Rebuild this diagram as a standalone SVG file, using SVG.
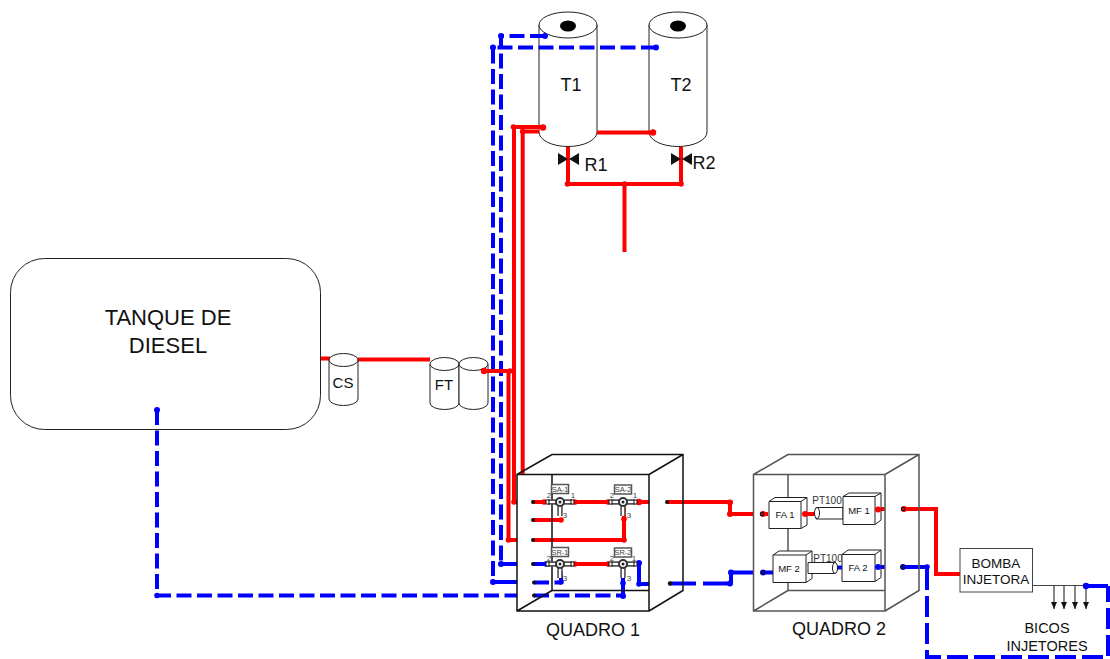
<svg xmlns="http://www.w3.org/2000/svg" width="1110" height="659" viewBox="0 0 1110 659">
<style>
text{font-family:"Liberation Sans",Arial,sans-serif;fill:#111;text-anchor:middle}
.s{fill:#fff;stroke:#222;stroke-width:1}
.b{fill:none;stroke:#111;stroke-width:1.5}
.g{fill:none;stroke:#555;stroke-width:1.5}
.r{fill:none;stroke:#f00;stroke-width:4}
.u{fill:none;stroke:#00f;stroke-width:4}
.d{stroke-dasharray:15 5.500}
.d2{stroke-dasharray:21 6}
.d3{stroke-dasharray:26 7}
.rd{fill:#f00}.ud{fill:#00f}
.t9{font-size:10px;fill:#333}
.t8{font-size:8px;fill:#444}
.t7{font-size:7.500px;fill:#444}
.n{font-size:9.500px}
.valve{fill:#111}
.v{fill:none;stroke:#555;stroke-width:5.500}
.vi{fill:none;stroke:#fff;stroke-width:2.200}
</style>
<defs>
<marker id="arr" markerWidth="7" markerHeight="6" refX="7" refY="3" orient="auto" markerUnits="userSpaceOnUse"><path d="M0 0L7 3L0 6Z" fill="#111"/></marker>
<g id="tap"><rect x="-8.500" y="-4.500" width="17" height="9" fill="#fff" stroke="#555" stroke-width="1.500"/></g>
<g id="sw"><path d="M-12 0H12M0 0V14" class="v"/><path d="M-12 0H12M0 0V14" class="vi"/><rect x="-14" y="-2" width="3" height="4" fill="#fff" stroke="#111" stroke-width="1"/><rect x="11" y="-2" width="3" height="4" fill="#fff" stroke="#111" stroke-width="1"/><circle r="4" fill="#fff" stroke="#333" stroke-width="2"/><circle r="1.500" fill="#222"/></g>
</defs>

<g id="tanque-diesel">
<rect class="s" x="10.500" y="258.500" width="310" height="171" rx="34" ry="34"/>
<text x="168" y="325" font-size="22">TANQUE DE</text>
<text x="168" y="353" font-size="22">DIESEL</text>
</g>

<g id="t1">
<path class="s" d="M539 25V132A29 14.500 0 0 0 597 132V25Z"/>
<ellipse class="s" cx="568" cy="25" rx="29" ry="13"/>
<ellipse cx="568" cy="26" rx="8" ry="5.500" fill="#000"/>
<text x="571" y="91" font-size="18">T1</text>
</g>
<g id="t2">
<path class="s" d="M649 25V132A29 14.500 0 0 0 707 132V25Z"/>
<ellipse class="s" cx="678" cy="25" rx="29" ry="13"/>
<ellipse cx="678" cy="26" rx="8" ry="5.500" fill="#000"/>
<text x="681" y="91" font-size="18">T2</text>
</g>

<g id="connectors">
<path class="r" d="M321 358.500H330M358 359.500H430"/>
<path class="r" d="M484 371H509M508.500 371V540H517"/>
<path class="r" d="M517 502H514V127H544M522.700 474V131.500H539"/>
<path class="r" d="M597 132.500H653"/>
<path class="r" d="M568 147V184M681 147V184M567 184H681M624.500 184V252"/>

<path class="u d" d="M545 36H501V564"/>
<path class="u d" d="M656 47.500H493V582"/>
<path class="u" d="M501 564H517"/>
<path class="u" d="M493 582H517"/>
<path class="u d" d="M534 582.500H561"/>
<path class="u d" d="M157 410V595.500H517"/>
<path class="u d" d="M534 595.500H623"/>
<path class="u" d="M533 564H546"/>

<path class="r" d="M533 502H640M533 520H561M533 540H624V505"/>
<path class="r" d="M640 502H649M667 502H730V514H754"/>
<path class="r" d="M573 564H610"/>
<path class="u" d="M637 564H639V584H649M623 570V596M561 572V583"/>
<path class="u d3" d="M670 583.500H730"/>
<path class="u" d="M731 583V572.500H754"/>

<path class="r" d="M763 514H768M803 514H818M878 509H885M903 509H936V574H960"/>
<path class="u" d="M763 572.500H775M836 567.500H842M878 567H885M903 567H927V590"/>
<path class="u d2" d="M927 596V657H1108V586"/>
<path class="u" d="M1108 586H1086"/>
<path d="M1032 585.500H1086" fill="none" stroke="#444" stroke-width="1"/>
<g fill="none" stroke="#111" stroke-width="1" marker-end="url(#arr)">
<path d="M1054 586V609"/><path d="M1064 586V609"/><path d="M1075 586V609"/><path d="M1086 586V609"/>
</g>
</g>

<g id="dots-red" class="rd">
<circle cx="513.500" cy="127" r="2.800"/><circle cx="522.700" cy="131.500" r="2.800"/><circle cx="543" cy="127.500" r="3.200"/><circle cx="653" cy="132.500" r="3.200"/>
<circle cx="567.500" cy="184" r="2.800"/><circle cx="624.500" cy="184" r="2.800"/><circle cx="681" cy="184" r="2.800"/>
<circle cx="510" cy="371" r="2.800"/><circle cx="508.500" cy="540" r="2.800"/><circle cx="514" cy="502" r="2.800"/>
<circle cx="544" cy="502" r="2.800"/><circle cx="575" cy="502" r="2.800"/><circle cx="608" cy="502" r="2.800"/><circle cx="639" cy="502" r="3.200"/><circle cx="561" cy="520" r="2.800"/><circle cx="624" cy="540" r="2.800"/><circle cx="624" cy="519" r="2.800"/><circle cx="575" cy="564" r="2.800"/><circle cx="608" cy="564" r="2.800"/>
<circle cx="730" cy="502.500" r="3"/><circle cx="730" cy="514" r="3"/>
</g>
<g id="dots-blue" class="ud">
<circle cx="157" cy="410" r="3"/><circle cx="157" cy="595.500" r="2.800"/><circle cx="545" cy="36" r="3"/><circle cx="501" cy="36" r="3"/><circle cx="493" cy="47.500" r="3"/><circle cx="656" cy="47.500" r="3"/>
<circle cx="501" cy="564" r="3"/><circle cx="493" cy="582" r="3"/><circle cx="546" cy="564" r="2.800"/><circle cx="561" cy="582" r="2.800"/><circle cx="623" cy="596" r="3"/><circle cx="623" cy="583" r="2.800"/><circle cx="639" cy="563" r="3"/><circle cx="639" cy="584" r="2.800"/>
<circle cx="730" cy="583.500" r="3"/><circle cx="731" cy="572.500" r="3"/><circle cx="927" cy="567" r="2.800"/><circle cx="1086" cy="586" r="3.200"/>
</g>

<g id="r1"><path class="valve" d="M558 153L568 159L558 165ZM579 153L569 159L579 165Z"/><text x="596" y="171" font-size="18">R1</text></g>
<g id="r2"><path class="valve" d="M671 153L681 159L671 165ZM692 153L682 159L692 165Z"/><text x="704" y="169" font-size="18">R2</text></g>

<g id="cs">
<path class="s" d="M329 360V399A14.500 6.500 0 0 0 358 399V360Z"/><ellipse class="s" cx="343.500" cy="360" rx="14.500" ry="6.500"/>
<text x="343" y="388" font-size="15">CS</text>
</g>
<g id="ft">
<path class="s" d="M430 364V403A14.500 6.500 0 0 0 459 403V364Z"/><ellipse class="s" cx="444.500" cy="364" rx="14.500" ry="6.500"/>
<path class="s" d="M459 364V403A14.500 6.500 0 0 0 488 403V364Z"/><ellipse class="s" cx="473.500" cy="364" rx="14.500" ry="6.500"/>
<text x="444" y="390" font-size="15">FT</text>
</g>
<path class="r" d="M484 371H510"/><circle cx="484" cy="371" r="3.200" class="rd"/>

<g id="quadro-1">
<path class="b" d="M517 474.500H649V611H517ZM517 474.500L552 454.500H683V590.500L649 611M649 474.500L683 454.500M552 474.500V590.500H649M552 590.500L517 611"/>
<text x="593" y="636" font-size="18">QUADRO 1</text>
<g fill="#111"><circle cx="533" cy="502" r="2"/><circle cx="533" cy="520" r="2"/><circle cx="533" cy="540" r="2"/><circle cx="533" cy="564" r="2"/><circle cx="534" cy="582.500" r="2"/><circle cx="534" cy="595.500" r="2"/><circle cx="667" cy="502" r="2"/><circle cx="670" cy="583.500" r="2.200"/></g>
<g id="sa-1"><use href="#sw" x="560" y="502"/><use href="#tap" x="560" y="489"/><text class="t7" x="560" y="491.500">SA-1</text><text class="t8" x="549" y="498">2</text><text class="t8" x="573" y="498">1</text><text class="t8" x="565" y="518">3</text></g>
<g id="sa-2"><use href="#sw" x="623" y="502"/><use href="#tap" x="623" y="489.500"/><text class="t7" x="623" y="492">SA-2</text><text class="t8" x="612" y="498">2</text><text class="t8" x="635" y="498">1</text><text class="t8" x="629" y="518">3</text></g>
<g id="sr-1"><use href="#sw" x="560" y="564"/><use href="#tap" x="560" y="552"/><text class="t7" x="560" y="554.500">SR-1</text><text class="t8" x="549" y="561">2</text><text class="t8" x="565" y="581">3</text></g>
<g id="sr-2"><use href="#sw" x="623" y="564"/><use href="#tap" x="623" y="552.500"/><text class="t7" x="623" y="555">SR-2</text><text class="t8" x="612" y="561">2</text><text class="t8" x="634" y="561">1</text><text class="t8" x="629" y="581">3</text></g>
</g>

<g id="quadro-2">
<path class="g" d="M753.500 474.500H885V611H753.500ZM753.500 474.500L788 454.500H919V590.500L885 611M885 474.500L919 454.500M788 474.500V590.500H885M788 590.500L753.500 611"/>
<text x="839" y="635" font-size="18">QUADRO 2</text>
<g id="fa-1">
<path class="s" d="M769 501.500V528.500H801L807 525V497.500H775Z"/><path class="s" d="M769 501.500H801V528.500M801 501.500L807 497.500"/>
<text class="n" x="785" y="518">FA 1</text></g>
<g id="pt100-1"><path class="s" d="M816 507.500H843V519H816Z"/><ellipse class="s" cx="817" cy="513" rx="2.500" ry="5.500"/><text class="t9" x="827" y="504">PT100</text></g>
<g id="mf-1">
<path class="s" d="M843 496.500V524.500H875L881 520V493H849Z"/><path class="s" d="M843 496.500H875V524.500M875 496.500L881 493"/>
<text class="n" x="859" y="514">MF 1</text></g>
<g id="mf-2">
<path class="s" d="M773 555V582.500H806L812 578.500V551H779Z"/><path class="s" d="M773 555H806V582.500M806 555L812 551"/>
<text class="n" x="789" y="572">MF 2</text></g>
<g id="pt100-2"><path class="s" d="M808 562.500H835V573.500H808Z"/><ellipse class="s" cx="835" cy="568" rx="2.500" ry="5.500"/><text class="t9" x="828" y="562">PT100</text></g>
<g id="fa-2">
<path class="s" d="M842 554.500V581.500H875L881 577.500V550H848Z"/><path class="s" d="M842 554.500H875V581.500M875 554.500L881 550"/>
<text class="n" x="858" y="571">FA 2</text></g>
<g class="rd"><circle cx="763" cy="514" r="3"/><circle cx="805" cy="514" r="3"/><circle cx="878" cy="509.500" r="3"/><circle cx="904" cy="509" r="3"/></g>
<g class="ud"><circle cx="763" cy="572.500" r="3"/><circle cx="878" cy="567" r="3"/><circle cx="903" cy="567" r="3"/></g>
<g fill="none" stroke="#111" stroke-width="1.200"><circle cx="762" cy="514" r="1.700"/><circle cx="763" cy="572.500" r="1.700"/><circle cx="903" cy="509" r="1.700"/><circle cx="903" cy="567" r="1.700"/></g>
</g>

<g id="bomba-injetora">
<rect x="960" y="548.500" width="72.500" height="43.500" fill="#fff" stroke="#444" stroke-width="1"/>
<text x="996" y="567.500" font-size="13.500">BOMBA</text><text x="996" y="584" font-size="13.500">INJETORA</text>
</g>
<g id="bicos-injetores">
<text x="1047" y="633" font-size="14.500">BICOS</text><text x="1047" y="651" font-size="14.500">INJETORES</text>
</g>
</svg>
